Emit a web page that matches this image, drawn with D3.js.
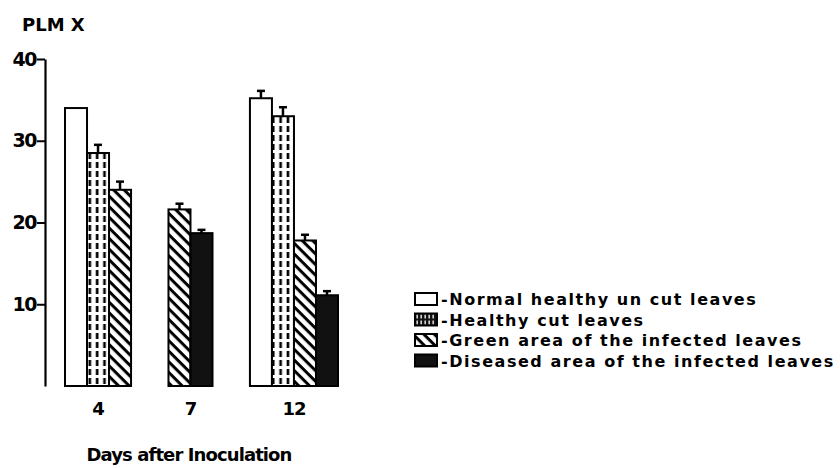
<!DOCTYPE html>
<html>
<head>
<meta charset="utf-8">
<script src="https://cdn.jsdelivr.net/npm/d3@7"></script>
<style>
  body { margin: 0; background: #fff; }
  text { font-family: "DejaVu Sans", sans-serif; font-weight: bold; fill: #000; }
</style>
</head>
<body>
<div id="chart"></div>
<script>
// size of the svg
const width = 840, height = 468;

// data
const days = ["4", "7", "12"];
const series = ["normal", "healthyCut", "green", "diseased"];
const seriesLabels = ["-Normal healthy un cut leaves", "-Healthy cut leaves",
    "-Green area of the infected leaves", "-Diseased area of the infected leaves"];
// null = not measured on that day
const normalVals     = [34.0, null, 35.2];
const healthyCutVals = [28.5, null, 33.0];
const greenVals      = [24.0, 21.6, 17.8];
const diseasedVals   = [null, 18.7, 11.1];
const normalErr      = [0, null, 0.9];
const healthyCutErr  = [1.0, null, 1.1];
const greenErr       = [1.0, 0.7, 0.7];
const diseasedErr    = [null, 0.4, 0.5];
const yTicks = [10, 20, 30, 40];

const valsBySeries = [normalVals, healthyCutVals, greenVals, diseasedVals];
const errBySeries = [normalErr, healthyCutErr, greenErr, diseasedErr];

// bars laid out one after another, groups separated by a gap (in bar units)
const groupGap = 1.7;
const bars = [];
const groupCenters = [];
let unit = 0;
days.forEach((day, gi) => {
    const start = unit;
    series.forEach((s, si) => {
        const v = valsBySeries[si][gi];
        if (v === null) return;
        bars.push({day: day, series: s, value: v, err: errBySeries[si][gi], u: unit});
        unit += 1;
    });
    groupCenters.push({day: day, u: (start + unit) / 2});
    unit += groupGap;
});
const totalUnits = unit - groupGap;

const svg = d3.select("#chart").append("svg")
    .attr("width", width).attr("height", height);

const x = d3.scaleLinear().domain([0, totalUnits]).range([65, 338]);
const y = d3.scaleLinear().domain([0, 40]).range([386, 59]);
const bw = x(1) - x(0);

// patterns
const defs = svg.append("defs");
const pDash = defs.append("pattern").attr("id", "dash")
    .attr("patternUnits", "userSpaceOnUse").attr("width", bw / 3).attr("height", 9)
    .attr("x", x(0));
pDash.append("rect").attr("width", bw / 3).attr("height", 9).attr("fill", "#fff");
pDash.append("rect").attr("x", 1.5).attr("y", 0).attr("width", 2.6).attr("height", 6).attr("fill", "#000");

const pDiag = defs.append("pattern").attr("id", "diag")
    .attr("patternUnits", "userSpaceOnUse").attr("width", 7.5).attr("height", 7.5)
    .attr("patternTransform", "rotate(45)");
pDiag.append("rect").attr("width", 7.5).attr("height", 7.5).attr("fill", "#fff");
pDiag.append("rect").attr("x", 0).attr("y", 0).attr("width", 7.5).attr("height", 3).attr("fill", "#000");

const pIcon = defs.append("pattern").attr("id", "iconDash")
    .attr("patternUnits", "userSpaceOnUse").attr("width", 4).attr("height", 6);
pIcon.append("rect").attr("width", 4).attr("height", 6).attr("fill", "#111");
pIcon.append("rect").attr("x", 1.5).attr("y", 1).attr("width", 1.3).attr("height", 4).attr("fill", "#fff");

const fillOf = {normal: "#fff", healthyCut: "url(#dash)", green: "url(#diag)", diseased: "#111"};
const iconFill = {normal: "#fff", healthyCut: "url(#iconDash)", green: "url(#diag)", diseased: "#111"};

// bars
svg.append("g").selectAll("rect")
    .data(bars).enter().append("rect")
    .attr("x", d => x(d.u))
    .attr("y", d => y(d.value))
    .attr("width", bw)
    .attr("height", d => y(0) - y(d.value))
    .attr("fill", d => fillOf[d.series])
    .attr("stroke", "#000")
    .attr("stroke-width", 2);

// error bars
const eb = svg.append("g").selectAll("g")
    .data(bars.filter(d => d.err > 0)).enter().append("g");
eb.append("line")
    .attr("x1", d => x(d.u + 0.5)).attr("x2", d => x(d.u + 0.5))
    .attr("y1", d => y(d.value)).attr("y2", d => y(d.value + d.err))
    .attr("stroke", "#000").attr("stroke-width", 2.5);
eb.append("line")
    .attr("x1", d => x(d.u + 0.5) - 4).attr("x2", d => x(d.u + 0.5) + 4)
    .attr("y1", d => y(d.value + d.err)).attr("y2", d => y(d.value + d.err))
    .attr("stroke", "#000").attr("stroke-width", 2.5);

// y axis
const yAxis = svg.append("g")
    .attr("transform", "translate(45,0)")
    .call(d3.axisLeft(y).tickValues(yTicks).tickSize(8).tickSizeOuter(0).tickPadding(1));
yAxis.select(".domain").attr("stroke-width", 2.2);
yAxis.selectAll(".tick line").attr("stroke-width", 2);
yAxis.selectAll(".tick text").attr("font-size", 19).attr("font-family", "DejaVu Sans")
    .attr("font-weight", "bold").attr("letter-spacing", -1.5);

// day labels
svg.append("g").selectAll("text")
    .data(groupCenters).enter().append("text")
    .attr("x", d => x(d.u)).attr("y", 415)
    .attr("text-anchor", "middle").attr("font-size", 18)
    .attr("letter-spacing", -1)
    .text(d => d.day);

svg.append("text").attr("x", 189).attr("y", 461)
    .attr("text-anchor", "middle").attr("font-size", 18).attr("letter-spacing", -0.9)
    .text("Days after Inoculation");

svg.append("text").attr("x", 22).attr("y", 31)
    .attr("font-size", 18).text("PLM X");

// legend
const lg = svg.append("g").selectAll("g")
    .data(series).enter().append("g")
    .attr("transform", (d, i) => `translate(415,${293 + i * 20.5})`);
lg.append("rect")
    .attr("width", 22).attr("height", 12)
    .attr("fill", d => iconFill[d])
    .attr("stroke", "#000").attr("stroke-width", 2);
lg.append("text")
    .attr("x", 26).attr("y", 12)
    .attr("font-size", 16).attr("letter-spacing", 1.55)
    .text((d, i) => seriesLabels[i]);
</script>
</body>
</html>
